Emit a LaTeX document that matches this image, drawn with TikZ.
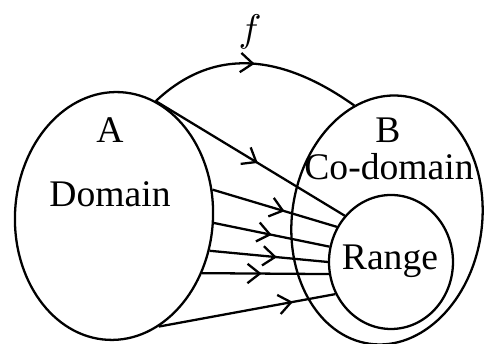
\documentclass[tikz,border=0pt]{standalone}
\usepackage{fontspec}
\setmainfont{Liberation Serif}
\usetikzlibrary{
    arrows.meta,
    shapes.geometric,
    decorations.markings
}

\begin{document}
\begin{tikzpicture}[
    line width=0.65pt,
    font=\fontsize{10.7pt}{13pt}\selectfont,
    set/.style={draw, ellipse, inner sep=0pt},
    midarrow/.style={postaction={decorate},
        decoration={markings,
            mark=at position #1 with {\arrow{Straight Barb[length=3.5pt,width=5.5pt]}}}}
]

\useasboundingbox (0,0) rectangle (4.84,3.44);

% Sets
\node[set, minimum width=1.98cm, minimum height=2.48cm, rotate=-3] (A) at (1.14,1.28) {};
\node[set, minimum width=1.9cm, minimum height=2.5cm, rotate=-8] (B) at (3.87,1.24) {};
\node[set, minimum width=1.24cm, minimum height=1.34cm] (R) at (3.91,0.82) {};

% Labels
\node[anchor=base] (labA) at (1.10,2.01) {A};
\node[anchor=base] (labDom) at (1.10,1.37) {Domain};
\node[anchor=base] (labB) at (3.88,2.01) {B};
\node[anchor=base] (labCod) at (3.89,1.64) {Co-domain};
\node[anchor=base] (labR) at (3.90,0.74) {Range};
\node[anchor=base] (labf) at (2.50,3.02) {$f$};

% Map f
\draw[midarrow=0.5] (A.73) .. controls (2.10,2.94) and (2.76,2.94) .. (B.114);

% Elements to range
\draw[midarrow=0.54] (A.73) -- (R.135);
\draw[midarrow=0.58] (A.18) -- (R.147);
\draw[midarrow=0.5] (A.-1) -- (R.166);
\draw[midarrow=0.57] (A.-17) -- (R.180);
\draw[midarrow=0.47] (A.-30) -- (R.191);
\draw[midarrow=0.76] (A.-65) -- (R.210);

\end{tikzpicture}
\end{document}
